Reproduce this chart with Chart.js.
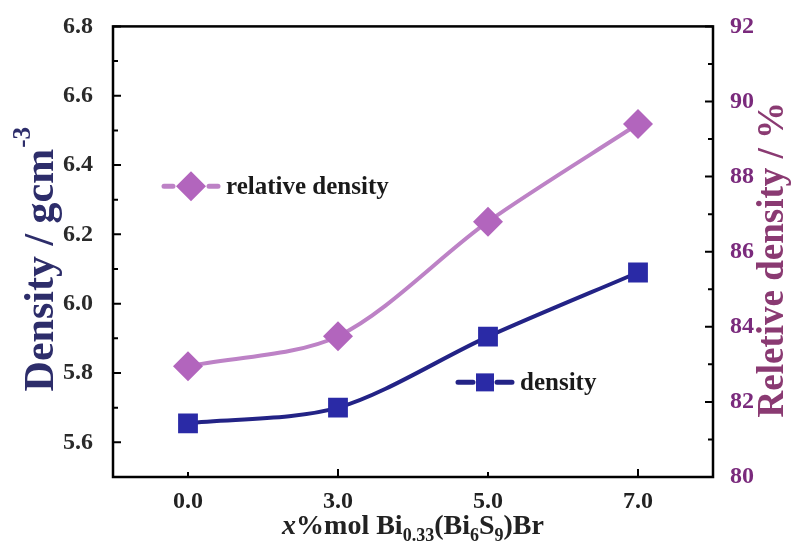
<!DOCTYPE html>
<html>
<head>
<meta charset="utf-8">
<script src="https://cdn.jsdelivr.net/npm/chart.js@4.4.0/dist/chart.umd.min.js"></script>
<style>
  html, body { margin: 0; padding: 0; background: #fff; }
  #wrap { width: 795px; height: 556px; position: relative; }
</style>
</head>
<body>
<div id="wrap"><canvas id="chart"></canvas></div>
<script>
// data
const categories = ['0.0', '3.0', '5.0', '7.0'];
const densityValues = [5.655, 5.70, 5.905, 6.09];
const relativeValues = [82.95, 83.75, 86.8, 89.4];

const leftTicks = [5.6, 5.8, 6.0, 6.2, 6.4, 6.6, 6.8];
const leftMinorTicks = [5.7, 5.9, 6.1, 6.3, 6.5, 6.7];
const rightTicks = [80, 82, 84, 86, 88, 90, 92];
const rightMinorTicks = [81, 83, 85, 87, 89, 91];

const SERIF = '"Liberation Serif", "DejaVu Serif", serif';
const densityLine = '#232386';
const densityFill = '#2a2aa6';
const relLine = '#bd82c6';
const relFill = '#b265bd';

// draws frame, inward ticks, axis titles and the two in-plot legends
const decorPlugin = {
  id: 'decor',
  afterDraw(chart) {
    const ctx = chart.ctx;
    const a = chart.chartArea;
    const x = chart.scales.x, yl = chart.scales.y, yr = chart.scales.y1;

    ctx.save();
    ctx.strokeStyle = '#000';
    ctx.lineWidth = 2.5;
    ctx.strokeRect(a.left, a.top, a.right - a.left, a.bottom - a.top);

    ctx.lineWidth = 2;
    ctx.beginPath();
    leftTicks.forEach(v => { const p = yl.getPixelForValue(v); ctx.moveTo(a.left, p); ctx.lineTo(a.left + 8, p); });
    leftMinorTicks.forEach(v => { const p = yl.getPixelForValue(v); ctx.moveTo(a.left, p); ctx.lineTo(a.left + 5, p); });
    rightTicks.forEach(v => { const p = yr.getPixelForValue(v); ctx.moveTo(a.right, p); ctx.lineTo(a.right - 8, p); });
    rightMinorTicks.forEach(v => { const p = yr.getPixelForValue(v); ctx.moveTo(a.right, p); ctx.lineTo(a.right - 5, p); });
    categories.forEach((c, i) => {
      const p = x.getPixelForValue(i);
      ctx.moveTo(p, a.bottom); ctx.lineTo(p, a.bottom - (i % 2 ? 8 : 5));
    });
    ctx.stroke();

    // left title
    const midY = (a.top + a.bottom) / 2;
    ctx.save();
    ctx.translate(42, midY + 8);
    ctx.rotate(-Math.PI / 2);
    ctx.fillStyle = '#2d2d6a';
    ctx.textBaseline = 'middle';
    const mainL = 'Density / gcm';
    ctx.font = 'bold 25px ' + SERIF;
    const supW = ctx.measureText('-3').width;
    ctx.font = 'bold 42px ' + SERIF;
    const wL = ctx.measureText(mainL).width;
    let sx = -(wL + supW) / 2;
    ctx.fillText(mainL, sx, 0);
    ctx.font = 'bold 25px ' + SERIF;
    ctx.fillText('-3', sx + wL + 1, -18);
    ctx.restore();

    // right title
    ctx.save();
    ctx.translate(773, midY + 8);
    ctx.rotate(-Math.PI / 2);
    ctx.fillStyle = '#8a3a72';
    ctx.textAlign = 'center';
    ctx.textBaseline = 'middle';
    ctx.font = 'bold 37px ' + SERIF;
    ctx.fillText('Reletive density / %', 0, 0);
    ctx.restore();

    // x title with italic x and subscripts
    const parts = [
      { t: 'x', f: 'italic bold 28px ' },
      { t: '%mol Bi', f: 'bold 28px ' },
      { t: '0.33', f: 'bold 18px ', dy: 7 },
      { t: '(Bi', f: 'bold 28px ' },
      { t: '6', f: 'bold 18px ', dy: 7 },
      { t: 'S', f: 'bold 28px ' },
      { t: '9', f: 'bold 18px ', dy: 7 },
      { t: ')Br', f: 'bold 28px ' }
    ];
    let total = 0;
    parts.forEach(p => { ctx.font = p.f + SERIF; p.w = ctx.measureText(p.t).width; total += p.w; });
    let px = (a.left + a.right) / 2 - total / 2;
    ctx.fillStyle = '#222';
    ctx.textBaseline = 'alphabetic';
    parts.forEach(p => { ctx.font = p.f + SERIF; ctx.fillText(p.t, px, 534 + (p.dy || 0)); px += p.w; });

    // legends inside the plot
    const w = a.right - a.left, h = a.bottom - a.top;
    function legend(fx, fy, label, color, fill, shape, r) {
      const cx = a.left + fx * w, cy = a.top + fy * h;
      ctx.strokeStyle = color;
      ctx.lineWidth = 5;
      ctx.lineCap = 'round';
      ctx.beginPath();
      ctx.moveTo(cx - 27, cy); ctx.lineTo(cx - r - 3, cy);
      ctx.moveTo(cx + r + 3, cy); ctx.lineTo(cx + 27, cy);
      ctx.stroke();
      ctx.fillStyle = fill;
      ctx.beginPath();
      if (shape === 'diamond') {
        ctx.moveTo(cx, cy - r); ctx.lineTo(cx + r, cy); ctx.lineTo(cx, cy + r); ctx.lineTo(cx - r, cy); ctx.closePath();
      } else {
        ctx.rect(cx - r, cy - r, 2 * r, 2 * r);
      }
      ctx.fill();
      ctx.fillStyle = '#1a1a1a';
      ctx.font = 'bold 25px ' + SERIF;
      ctx.textBaseline = 'middle';
      ctx.fillText(label, cx + 35, cy + 1);
    }
    legend(0.13, 0.355, 'relative density', relLine, relFill, 'diamond', 15);
    legend(0.62, 0.79, 'density', densityLine, densityFill, 'square', 9);
    ctx.restore();
  }
};

new Chart(document.getElementById('chart'), {
  type: 'line',
  data: {
    labels: categories,
    datasets: [
      {
        label: 'relative density',
        data: relativeValues,
        yAxisID: 'y1',
        borderColor: relLine,
        backgroundColor: relFill,
        borderWidth: 4,
        tension: 0.3,
        pointStyle: 'rectRot',
        pointRadius: 15,
        pointBorderWidth: 0,
        pointBackgroundColor: relFill
      },
      {
        label: 'density',
        data: densityValues,
        yAxisID: 'y',
        borderColor: densityLine,
        backgroundColor: densityFill,
        borderWidth: 4,
        tension: 0.3,
        pointStyle: 'rect',
        pointRadius: 14,
        pointBorderWidth: 0,
        pointBackgroundColor: densityFill
      }
    ]
  },
  options: {
    responsive: true,
    maintainAspectRatio: false,
    animation: false,
    layout: { padding: { top: 24, left: 0, right: 0, bottom: 0 } },
    plugins: { legend: { display: false }, tooltip: { enabled: false } },
    scales: {
      x: {
        type: 'category',
        offset: true,
        grid: { display: false },
        border: { display: false },
        ticks: { color: '#222', font: { family: SERIF, size: 24, weight: 'bold' }, padding: 2 },
        afterFit(scale) { scale.height = 79; }
      },
      y: {
        position: 'left',
        min: 5.5,
        max: 6.8,
        grid: { display: false },
        border: { display: false },
        afterBuildTicks(scale) { scale.ticks = leftTicks.map(v => ({ value: v })); },
        ticks: {
          color: '#2a2a2a',
          font: { family: SERIF, size: 24, weight: 'bold' },
          padding: 12,
          callback: v => v.toFixed(1)
        },
        afterFit(scale) { scale.width = 113; }
      },
      y1: {
        position: 'right',
        min: 80,
        max: 92,
        grid: { display: false },
        border: { display: false },
        afterBuildTicks(scale) { scale.ticks = rightTicks.map(v => ({ value: v })); },
        ticks: {
          color: '#7a2a7c',
          font: { family: SERIF, size: 24, weight: 'bold' },
          padding: 9
        },
        afterFit(scale) { scale.width = 82; }
      }
    }
  },
  plugins: [decorPlugin]
});
</script>
</body>
</html>
